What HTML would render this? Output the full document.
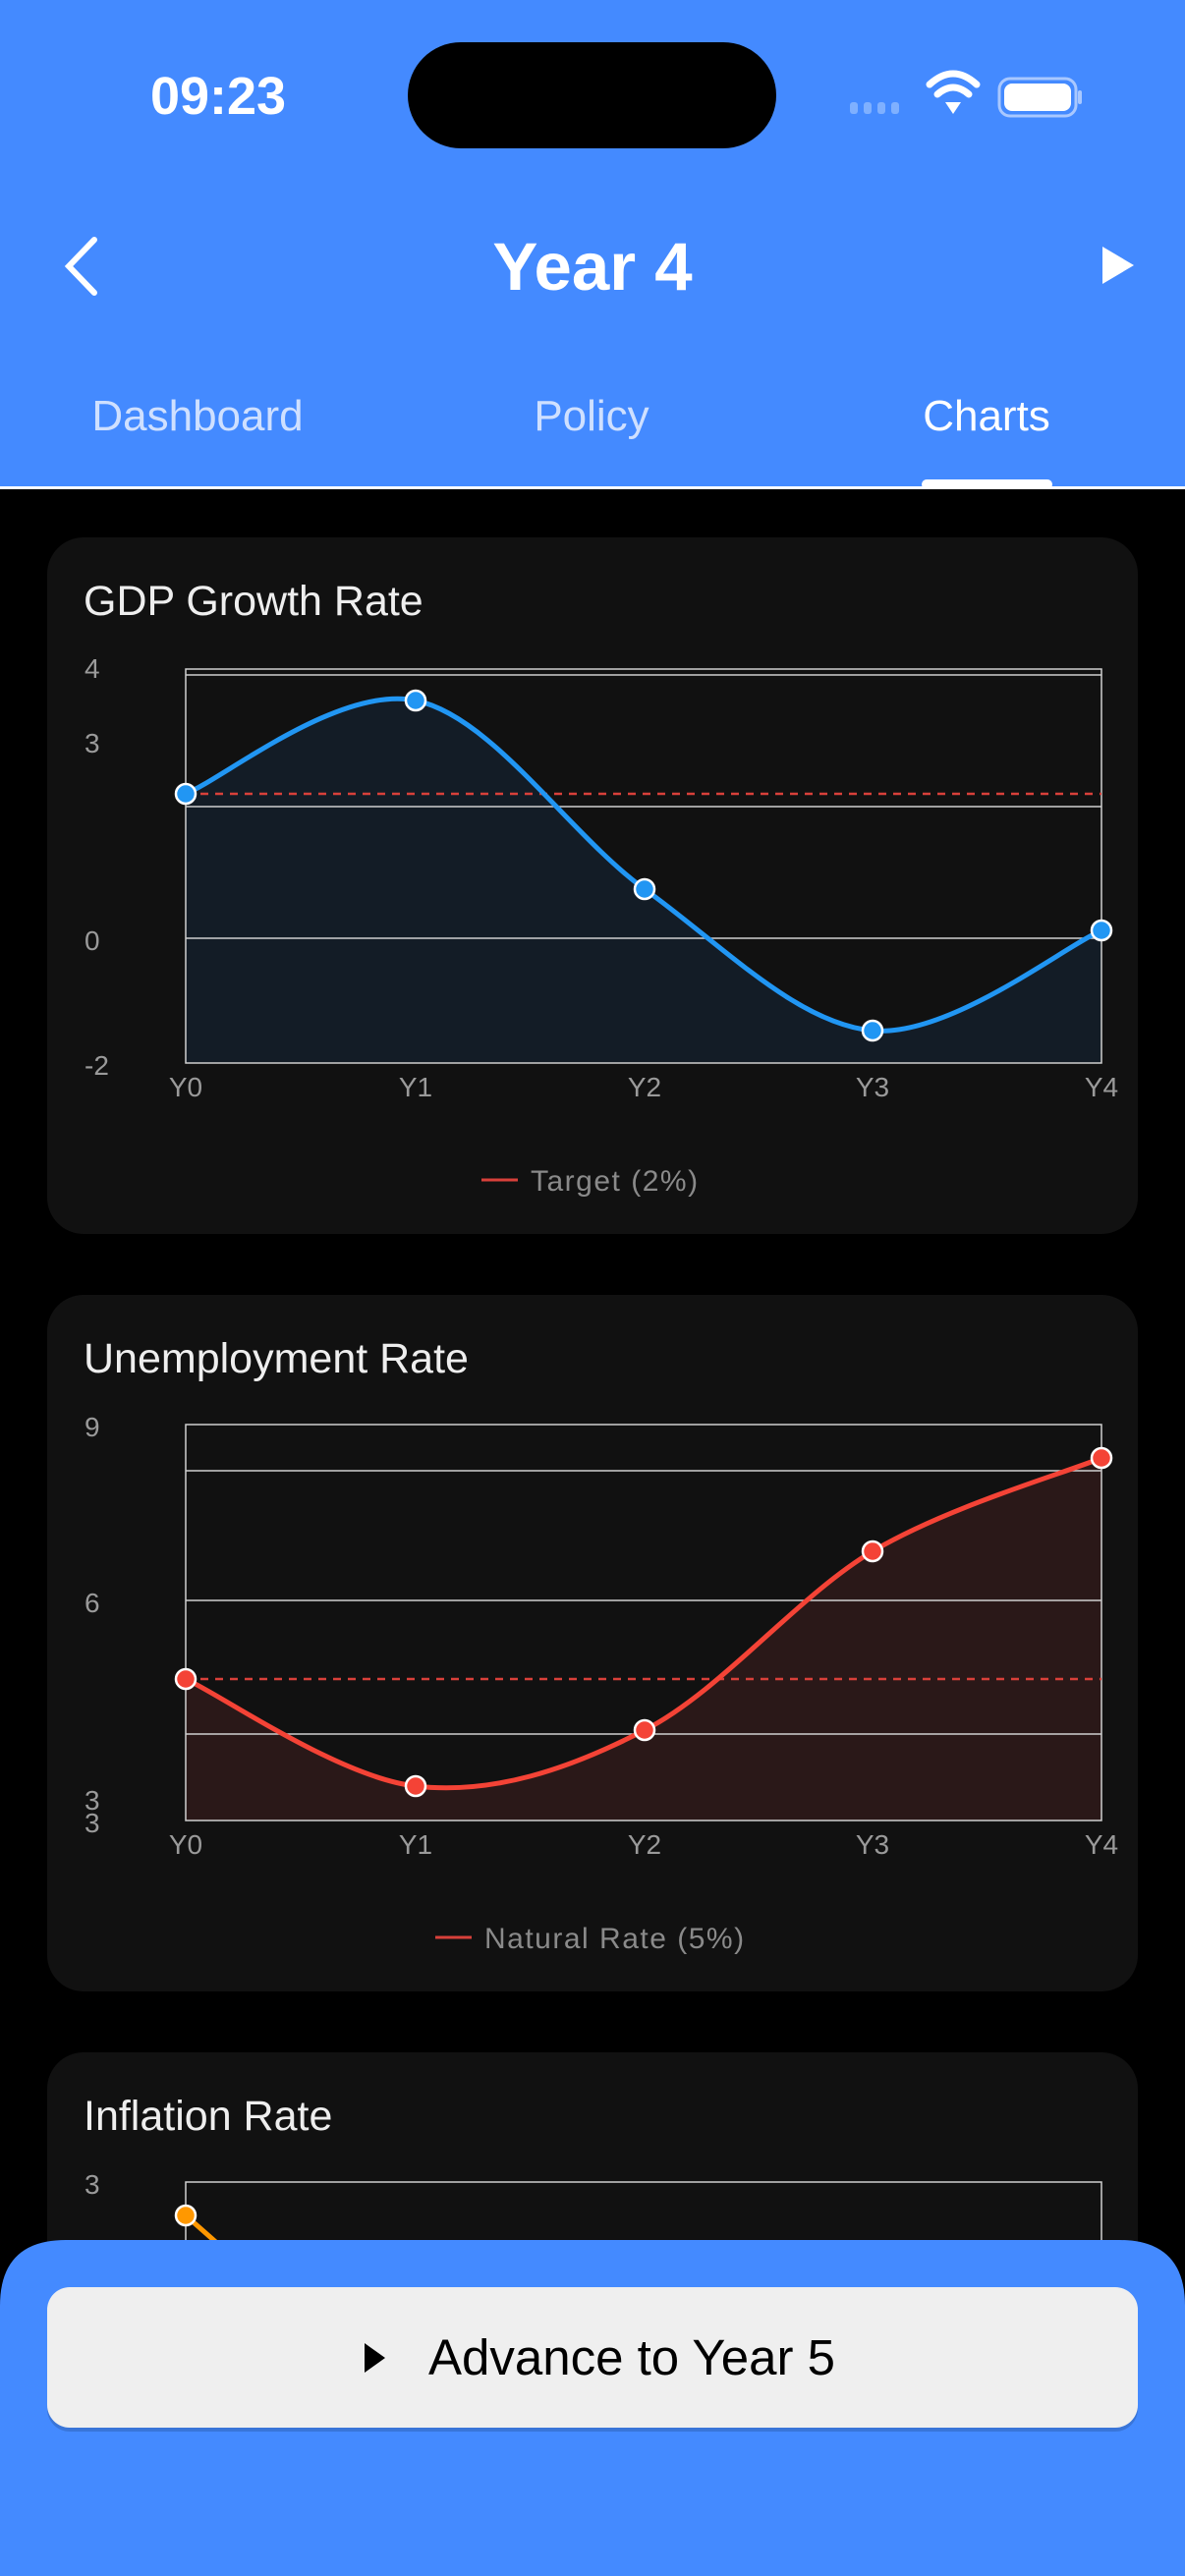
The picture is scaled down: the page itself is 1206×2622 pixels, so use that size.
<!DOCTYPE html>
<html><head><meta charset="utf-8"><style>
html,body{margin:0;padding:0;background:#000;width:1206px;height:2622px;overflow:hidden;font-family:"Liberation Sans",sans-serif}
svg{position:absolute;left:0;top:0}
</style></head><body>
<svg width="1206" height="2622" viewBox="0 0 1206 2622" xmlns="http://www.w3.org/2000/svg" font-family="Liberation Sans, sans-serif">
<rect x="0" y="0" width="1206" height="2622" fill="#000"/>
<rect x="0" y="0" width="1206" height="495" fill="#448AFF"/>
<rect x="0" y="495" width="1206" height="3" fill="#fff"/>
<rect x="938" y="488" width="133" height="10" rx="5" fill="#fff"/>
<text x="222" y="116" font-size="54" font-weight="bold" fill="#fff" text-anchor="middle">09:23</text>
<rect x="415" y="43" width="375" height="108" rx="54" fill="#000"/>
<g fill="#7fb0ff"><rect x="865" y="104" width="8" height="12" rx="3"/><rect x="879" y="104" width="8" height="12" rx="3"/><rect x="893" y="104" width="8" height="12" rx="3"/><rect x="907" y="104" width="8" height="12" rx="3"/></g>
<g fill="none" stroke="#fff" stroke-width="7" stroke-linecap="round">
<path d="M946 86 Q970 64 994 86"/><path d="M954 96 Q970 82 986 96"/></g>
<path d="M962 104 L978 104 L970 116 Z" fill="#fff"/>
<rect x="1017" y="80" width="78" height="38" rx="11" fill="none" stroke="#a9c8ff" stroke-width="3"/>
<rect x="1022" y="85" width="68" height="28" rx="8" fill="#fff"/>
<rect x="1097" y="92" width="4" height="14" rx="2" fill="#a9c8ff"/>
<path d="M96 244 L70 271 L96 298" fill="none" stroke="#fff" stroke-width="6" stroke-linecap="round"/>
<text x="603" y="295" font-size="69" font-weight="bold" fill="#fff" text-anchor="middle">Year 4</text>
<path d="M1122 251 L1154 270 L1122 289 Z" fill="#fff"/>
<text x="201" y="438" font-size="44" fill="#cfe0ff" text-anchor="middle">Dashboard</text>
<text x="602" y="438" font-size="44" fill="#cfe0ff" text-anchor="middle">Policy</text>
<text x="1004" y="438" font-size="44" fill="#fff" text-anchor="middle">Charts</text>

<rect x="48" y="547" width="1110" height="709" rx="37" fill="#111"/>
<text x="85" y="626" font-size="43" fill="#eee">GDP Growth Rate</text>
<path d="M189 808 C228 792 345 697 423 713 C501 729 579 849 656 905 C734 961 811 1042 888 1049 C966 1056 1082 964 1121 947 L1121 1082 L189 1082 Z" fill="#131c26"/>
<g stroke="#cfcfcf" stroke-width="1.5" fill="none">
<rect x="189" y="681" width="932" height="401"/>
<line x1="189" y1="687" x2="1121" y2="687"/><line x1="189" y1="821" x2="1121" y2="821"/><line x1="189" y1="955" x2="1121" y2="955"/></g>
<line x1="189" y1="808" x2="1121" y2="808" stroke="#d8403a" stroke-width="2.5" stroke-dasharray="8 7"/>
<path d="M189 808 C228 792 345 697 423 713 C501 729 579 849 656 905 C734 961 811 1042 888 1049 C966 1056 1082 964 1121 947" fill="none" stroke="#2196F3" stroke-width="5"/>
<g fill="#2196F3" stroke="#fff" stroke-width="2.5"><circle cx="189" cy="808" r="10"/><circle cx="423" cy="713" r="10"/><circle cx="656" cy="905" r="10"/><circle cx="888" cy="1049" r="10"/><circle cx="1121" cy="947" r="10"/></g>
<g font-size="28" fill="#9a9a9a"><text x="86" y="690">4</text><text x="86" y="766">3</text><text x="86" y="967">0</text><text x="86" y="1094">-2</text></g>
<g font-size="28" fill="#9a9a9a" text-anchor="middle"><text x="189" y="1116">Y0</text><text x="423" y="1116">Y1</text><text x="656" y="1116">Y2</text><text x="888" y="1116">Y3</text><text x="1121" y="1116">Y4</text></g>
<line x1="490" y1="1201" x2="527" y2="1201" stroke="#d8403a" stroke-width="3"/>
<text x="540" y="1212" font-size="30" letter-spacing="1.5" fill="#8a8a8a">Target (2%)</text>

<rect x="48" y="1318" width="1110" height="709" rx="37" fill="#111"/>
<text x="85" y="1397" font-size="43" fill="#eee">Unemployment Rate</text>
<path d="M189 1709 C228 1727 345 1809 423 1818 C501 1827 579 1801 656 1761 C734 1721 811 1625 888 1579 C966 1533 1082 1500 1121 1484 L1121 1853 L189 1853 Z" fill="#2a1818"/>
<g stroke="#cfcfcf" stroke-width="1.5" fill="none">
<rect x="189" y="1450" width="932" height="403"/>
<line x1="189" y1="1497" x2="1121" y2="1497"/><line x1="189" y1="1629" x2="1121" y2="1629"/><line x1="189" y1="1765" x2="1121" y2="1765"/></g>
<line x1="189" y1="1709" x2="1121" y2="1709" stroke="#d8403a" stroke-width="2.5" stroke-dasharray="8 7"/>
<path d="M189 1709 C228 1727 345 1809 423 1818 C501 1827 579 1801 656 1761 C734 1721 811 1625 888 1579 C966 1533 1082 1500 1121 1484" fill="none" stroke="#F44336" stroke-width="5"/>
<g fill="#F44336" stroke="#fff" stroke-width="2.5"><circle cx="189" cy="1709" r="10"/><circle cx="423" cy="1818" r="10"/><circle cx="656" cy="1761" r="10"/><circle cx="888" cy="1579" r="10"/><circle cx="1121" cy="1484" r="10"/></g>
<g font-size="28" fill="#9a9a9a"><text x="86" y="1462">9</text><text x="86" y="1641">6</text><text x="86" y="1842">3</text><text x="86" y="1865">3</text></g>
<g font-size="28" fill="#9a9a9a" text-anchor="middle"><text x="189" y="1887">Y0</text><text x="423" y="1887">Y1</text><text x="656" y="1887">Y2</text><text x="888" y="1887">Y3</text><text x="1121" y="1887">Y4</text></g>
<line x1="443" y1="1972" x2="480" y2="1972" stroke="#d8403a" stroke-width="3"/>
<text x="493" y="1983" font-size="30" letter-spacing="1.5" fill="#8a8a8a">Natural Rate (5%)</text>

<rect x="48" y="2089" width="1110" height="400" rx="37" fill="#111"/>
<text x="85" y="2168" font-size="43" fill="#eee">Inflation Rate</text>
<rect x="189" y="2221" width="932" height="300" fill="none" stroke="#cfcfcf" stroke-width="1.5"/>
<text x="86" y="2233" font-size="28" fill="#9a9a9a">3</text>
<path d="M189 2255 L240 2300" stroke="#FF9800" stroke-width="5"/>
<circle cx="189" cy="2255" r="10" fill="#FF9800" stroke="#fff" stroke-width="2.5"/>

<path d="M0 2347 Q0 2280 67 2280 L1139 2280 Q1206 2280 1206 2347 L1206 2622 L0 2622 Z" fill="#448AFF"/>
<rect x="48" y="2332" width="1110" height="143" rx="23" fill="#000" opacity="0.15"/>
<rect x="48" y="2328" width="1110" height="143" rx="23" fill="#efefef"/>
<path d="M371 2385 L392 2400 L371 2415 Z" fill="#000"/>
<text x="436" y="2417" font-size="51" fill="#000">Advance to Year 5</text>
</svg>
</body></html>
